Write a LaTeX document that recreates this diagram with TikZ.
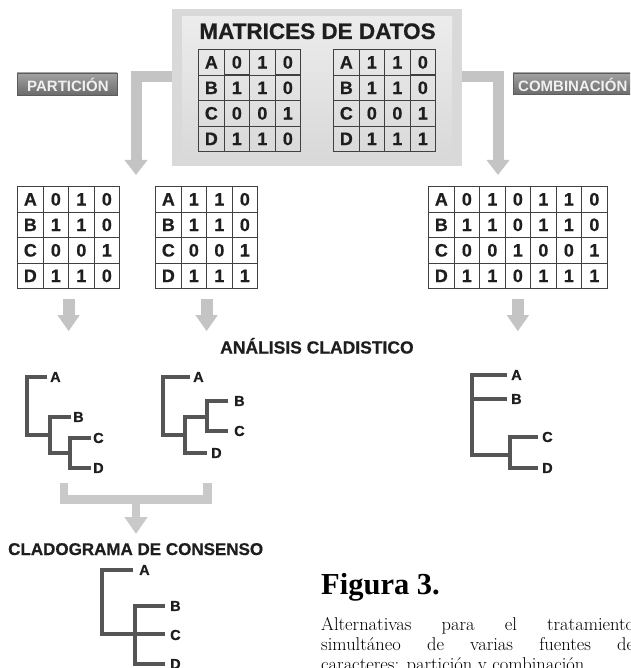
\documentclass[tikz,border=0pt]{standalone}
\usepackage{fontspec}
\setsansfont{Liberation Sans}
\newfontfamily\heavysans{Liberation Sans}[BoldFeatures={FakeBold=0.6}]
\newfontfamily\figfont{Liberation Serif}
\usetikzlibrary{matrix,arrows.meta}

\definecolor{arrowgray}{HTML}{C4C4C4}
\definecolor{bracketgray}{HTML}{C9C9C9}
\definecolor{treegray}{HTML}{555555}
\definecolor{gridgray}{HTML}{404040}
\definecolor{panelgray}{HTML}{D9D9D9}
\definecolor{panellight}{HTML}{ECECEC}
\definecolor{btntop}{HTML}{A2A2A2}
\definecolor{btnbot}{HTML}{6C6C6C}
\definecolor{btnedge}{HTML}{5C5C5C}
\definecolor{inkdark}{HTML}{1E1E1E}

\tikzset{
  cellgrid/.style={matrix of nodes, inner sep=0pt, outer sep=0pt,
    column sep=-1.2pt, row sep=-1.2pt,
    nodes={draw=gridgray, line width=1.2pt, minimum width=25.5pt,
      minimum height=25.5pt, inner sep=0pt, text=inkdark,
      font=\heavysans\bfseries\fontsize{18}{18}\selectfont}},
  whitegrid/.style={cellgrid, nodes={fill=white}},
  bigarrow/.style={draw=arrowgray, line width=11pt,
    -{Triangle[width=22pt,length=15pt]}},
  smallarrow/.style={draw=arrowgray, line width=12pt,
    -{Triangle[width=21pt,length=16pt]}},
  bracketbar/.style={draw=bracketgray, line width=8.5pt},
  bracketarrow/.style={draw=bracketgray, line width=8.5pt,
    -{Triangle[width=22pt,length=17pt]}},
  branch/.style={draw=treegray, line width=4pt},
  leaf/.style={anchor=west, inner sep=0pt, text=inkdark,
    font=\heavysans\bfseries\fontsize{14.5}{14.5}\selectfont},
  heading/.style={anchor=base west, inner sep=0pt, text=inkdark,
    font=\heavysans\bfseries\fontsize{17.5}{17.5}\selectfont},
  btnface/.style={top color=btntop, bottom color=btnbot, draw=btnedge,
    line width=0.6pt},
  btntext/.style={anchor=base west, inner sep=0pt, text=white!94!black,
    font=\sffamily\bfseries\fontsize{15}{15}\selectfont},
  capline/.style={anchor=base west, inner sep=0pt, text=black,
    font=\rmfamily\fontsize{18.5}{20}\selectfont},
}

\begin{document}
\begin{tikzpicture}[x=1pt, y=-1pt]
\useasboundingbox (0,0) rectangle (630,668);
\clip (0,0) rectangle (630,668);
\fill[white] (0,0) rectangle (630,668);

% ---- data panel with the two source matrices ----
\node[fill=panelgray, minimum width=290pt, minimum height=157pt,
      inner sep=0pt, outer sep=0pt] (data) at (317,87.5) {};
\shade[top color=panellight, bottom color=panelgray] (182,17) rectangle (452,157);
\node[anchor=base, inner sep=0pt, text=inkdark,
      font=\heavysans\bfseries\fontsize{22.5}{22.5}\selectfont] (title) at (317.5,39) {MATRICES DE DATOS};

\matrix (m1) [cellgrid, anchor=north west] at (198,49) {
  A & 0 & 1 & 0 \\
  B & 1 & 1 & 0 \\
  C & 0 & 0 & 1 \\
  D & 1 & 1 & 0 \\
};
\matrix (m2) [cellgrid, anchor=north west] at (333,49) {
  A & 1 & 1 & 0 \\
  B & 1 & 1 & 0 \\
  C & 0 & 0 & 1 \\
  D & 1 & 1 & 1 \\
};

% ---- method buttons ----
\path[btnface] (17,73) rectangle (117,95);
\node[btntext] (bpart) at (27,92) {PARTICIÓN};
\path[btnface] (513,73) rectangle (660,94);
\node[btntext] (bcomb) at (518,91.5) {COMBINACIÓN};

% ---- split / combined matrices ----
\matrix (pL) [whitegrid, anchor=north west] at (17,186) {
  A & 0 & 1 & 0 \\
  B & 1 & 1 & 0 \\
  C & 0 & 0 & 1 \\
  D & 1 & 1 & 0 \\
};
\matrix (pR) [whitegrid, anchor=north west] at (155,186) {
  A & 1 & 1 & 0 \\
  B & 1 & 1 & 0 \\
  C & 0 & 0 & 1 \\
  D & 1 & 1 & 1 \\
};
\matrix (cm) [whitegrid, anchor=north west] at (428,186) {
  A & 0 & 1 & 0 & 1 & 1 & 0 \\
  B & 1 & 1 & 0 & 1 & 1 & 0 \\
  C & 0 & 0 & 1 & 0 & 0 & 1 \\
  D & 1 & 1 & 0 & 1 & 1 & 1 \\
};

% ---- arrows out of the data panel ----
\coordinate (splitend) at (136,175);
\coordinate (combend) at (498,175);
\draw[bigarrow] ([yshift=10.5pt]data.west) -| (splitend);
\draw[bigarrow] ([yshift=10.5pt]data.east) -| (combend);

% ---- arrows into the analyses ----
\draw[smallarrow] ([yshift=-10pt]pL.south) -- ++(0,32);
\draw[smallarrow] ([yshift=-10pt]pR.south) -- ++(0,32);
\draw[smallarrow] ([yshift=-10pt]cm.south) -- ++(0,32);

\node[heading] (analysis) at (220,353.5) {ANÁLISIS CLADISTICO};

% ---- cladogram of the first partition ----
\draw[branch] (47,376.5) -| (27,435) -- (50,435);
\draw[branch] (71,417) -| (50,453) -- (70,453);
\draw[branch] (91,438) -| (70,468) -- (91,468);
\node[leaf] (t1a) at (50,377) {A};
\node[leaf] (t1b) at (73,417) {B};
\node[leaf] (t1c) at (93,438) {C};
\node[leaf] (t1d) at (93,468) {D};

% ---- cladogram of the second partition ----
\draw[branch] (190,376.5) -| (163,435) -- (185,435);
\draw[branch] (207,417) -| (185,453) -- (207,453);
\draw[branch] (228,401) -| (207,431) -- (228,431);
\node[leaf] (t2a) at (193,377) {A};
\node[leaf] (t2b) at (234,401) {B};
\node[leaf] (t2c) at (234,431) {C};
\node[leaf] (t2d) at (211,453) {D};

% ---- cladogram of the combined matrix ----
\draw[branch] (507,375) -| (472,455) -- (510,455);
\draw[branch] (472,399) -- (507,399);
\draw[branch] (538,437) -| (510,468) -- (538,468);
\node[leaf] (t3a) at (511,375) {A};
\node[leaf] (t3b) at (511,399) {B};
\node[leaf] (t3c) at (542,437) {C};
\node[leaf] (t3d) at (542,468) {D};

% ---- merging bracket towards the consensus ----
\coordinate (brl) at (64,483);
\coordinate (brr) at (207.5,483);
\coordinate (brmid) at (136,499.5);
\coordinate (consend) at (136,534);
\draw[bracketbar] (brl) |- (brr |- brmid) -- (brr);
\draw[bracketarrow] (brmid) -- (consend);

\node[heading, font=\heavysans\bfseries\fontsize{17}{17}\selectfont] (consensus) at (8,555) {CLADOGRAMA DE CONSENSO};

% ---- consensus cladogram ----
\draw[branch] (133,570) -| (102,634) -- (165,634);
\draw[branch] (165,606) -| (135,664) -- (165,664);
\node[leaf] (t4a) at (139,570) {A};
\node[leaf] (t4b) at (170,606) {B};
\node[leaf] (t4c) at (170,635) {C};
\node[leaf] (t4d) at (170,664) {D};

% ---- figure caption ----
\node[anchor=base west, inner sep=0pt,
      font=\figfont\bfseries\fontsize{30.5}{30.5}\selectfont] (figlabel) at (321,594) {Figura 3.};
\node[capline] (cap1) at (321,630) {\makebox[313pt][s]{Alternativas para el tratamiento}};
\node[capline] (cap2) at (321,650) {\makebox[313pt][s]{simultáneo de varias fuentes de}};
\node[capline] (cap3) at (321,670) {caracteres: partición y combinación.};
\end{tikzpicture}
\end{document}
